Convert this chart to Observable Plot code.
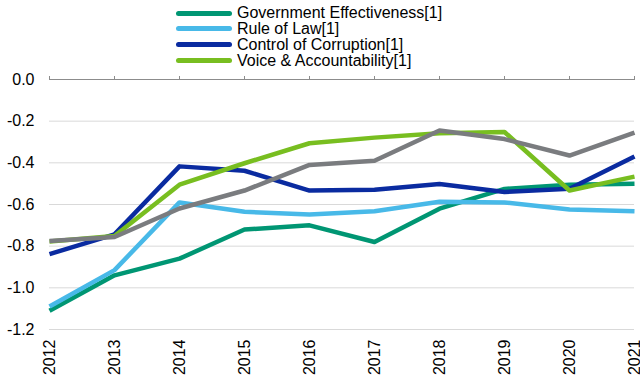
<!DOCTYPE html>
<html>
<head>
<meta charset="utf-8">
<script src="https://cdn.jsdelivr.net/npm/d3@7"></script>
<script src="https://cdn.jsdelivr.net/npm/@observablehq/plot@0.6"></script>
<style>
  html, body { margin: 0; padding: 0; background: #fff; }
  body { width: 640px; height: 381px; overflow: hidden; font-family: "Liberation Sans", Arial, sans-serif; }
  #legend { position: relative; height: 70px; width: 640px; }
  .item { position: absolute; left: 176px; height: 16px; display: flex; align-items: center; font-size: 16px; color: #000; white-space: nowrap; }
  .swatch { width: 56px; height: 5px; border-radius: 3px; margin-right: 5px; }
  #chart svg { display: block; }
</style>
</head>
<body>
<div id="legend"></div>
<div id="chart"></div>
<script>
const years = [2012, 2013, 2014, 2015, 2016, 2017, 2018, 2019, 2020, 2021];
const seriesNames = ["Government Effectiveness[1]", "Rule of Law[1]", "Control of Corruption[1]", "Voice & Accountability[1]", "Other indicator"];
const legendNames = ["Government Effectiveness[1]", "Rule of Law[1]", "Control of Corruption[1]", "Voice & Accountability[1]"];
const colors = ["#009673", "#48B9E8", "#0A2BA0", "#78BE20", "#7A7C7F"];

const governmentEffectiveness = [-1.11, -0.94, -0.86, -0.72, -0.70, -0.78, -0.62, -0.525, -0.505, -0.50];
const ruleOfLaw = [-1.09, -0.915, -0.59, -0.635, -0.648, -0.632, -0.587, -0.59, -0.624, -0.632];
const controlOfCorruption = [-0.838, -0.743, -0.417, -0.438, -0.533, -0.529, -0.502, -0.54, -0.524, -0.37];
const voiceAccountability = [-0.778, -0.751, -0.505, -0.402, -0.306, -0.279, -0.258, -0.252, -0.533, -0.466];
const otherIndicator = [-0.775, -0.756, -0.619, -0.533, -0.41, -0.39, -0.245, -0.286, -0.365, -0.255];

const yTicks = [0, -0.2, -0.4, -0.6, -0.8, -1.0, -1.2];

const seriesValues = [governmentEffectiveness, ruleOfLaw, controlOfCorruption, voiceAccountability, otherIndicator];
const data = [];
seriesNames.forEach((name, i) => {
  years.forEach((yr, j) => data.push({series: name, year: yr, value: seriesValues[i][j]}));
});

// legend
const legend = document.getElementById("legend");
legendNames.forEach((name, i) => {
  const item = document.createElement("div");
  item.className = "item";
  item.style.top = (5 + i * 15.9) + "px";
  const sw = document.createElement("div");
  sw.className = "swatch";
  sw.style.background = colors[i];
  const label = document.createElement("span");
  label.textContent = name;
  item.appendChild(sw);
  item.appendChild(label);
  legend.appendChild(item);
});

const fmt = v => (Math.abs(v) < 1e-9 ? "0.0" : v.toFixed(1));

const chart = Plot.plot({
  width: 640,
  height: 311,
  marginTop: 9,
  marginBottom: 52,
  marginLeft: 49,
  marginRight: 6,
  style: { fontFamily: "Liberation Sans, Arial, sans-serif", fontSize: "16px", color: "#000", background: "#fff" },
  x: { type: "linear", domain: [2012, 2021] },
  y: { domain: [-1.2, 0] },
  color: { domain: seriesNames, range: colors },
  marks: [
    Plot.gridY(yTicks.filter(t => t !== 0), { stroke: "#d9d9d9", strokeOpacity: 1, strokeWidth: 1 }),
    Plot.axisY(yTicks, { tickSize: 0, tickPadding: 15, tickFormat: fmt, fontSize: 16, label: null, fill: "#000" }),
    Plot.ruleY([0], { stroke: "#8c8c8c", strokeWidth: 1 }),
    Plot.axisX(years, { anchor: "top", tickSize: 4, tickFormat: () => "", label: null, stroke: "#8c8c8c" }),
    Plot.text(years, { x: d => d, frameAnchor: "bottom", rotate: -90, textAnchor: "end", lineAnchor: "middle", dy: 10, text: d => String(d), fontSize: 16, fill: "#000" }),
    Plot.line(data, { x: "year", y: "value", z: "series", stroke: "series", strokeWidth: 4.5, strokeLinecap: "butt", strokeLinejoin: "round" })
  ]
});
document.getElementById("chart").appendChild(chart);
</script>
</body>
</html>
